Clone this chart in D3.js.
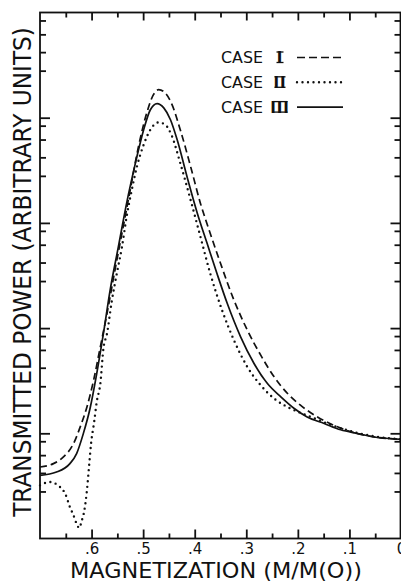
<!DOCTYPE html>
<html>
<head>
<meta charset="utf-8">
<script src="https://cdn.jsdelivr.net/npm/d3@7"></script>
<style>
  body { margin: 0; background: #fff; }
  text { font-family: "DejaVu Sans", sans-serif; fill: #111; }
</style>
</head>
<body>
<div id="chart"></div>
<script>
// magnetization M/M(0) (left to right, high to low M)
var magI = [0.700, 0.674, 0.655, 0.635, 0.622, 0.609, 0.596, 0.583, 0.570, 0.557, 0.541, 0.525,
    0.509, 0.493, 0.480, 0.470, 0.457, 0.444, 0.428, 0.408, 0.389, 0.370, 0.350, 0.324,
    0.298, 0.272, 0.246, 0.220, 0.195, 0.162, 0.130, 0.084, 0.052, 0.000];
var powerI = [4.78, 5.15, 5.94, 7.98, 11.5, 17.8, 32.0, 66.4, 138, 308, 798, 2062,
    5330, 11090, 16560, 18490, 17180, 13300, 7690, 3440, 1541, 798, 413, 185,
    95.7, 55.3, 34.4, 23.9, 18.5, 14.3, 11.9, 9.93, 9.22, 8.77];

var magII = [0.700, 0.681, 0.661, 0.651, 0.642, 0.635, 0.629, 0.624, 0.619, 0.614, 0.609, 0.605,
    0.601, 0.595, 0.590, 0.583, 0.577, 0.570, 0.561, 0.551, 0.541, 0.532, 0.522, 0.512,
    0.499, 0.486, 0.470, 0.457, 0.444, 0.428, 0.408, 0.389, 0.370, 0.347, 0.324, 0.298,
    0.272, 0.246, 0.214, 0.182, 0.143, 0.104, 0.052, 0.000];
var powerII = [3.20, 3.44, 3.08, 2.66, 1.99, 1.66, 1.38, 1.26, 1.48, 1.85, 2.87, 4.78,
    7.98, 12.8, 19.9, 29.7, 64.0, 89.0, 178, 332, 594, 1148, 2062, 3440,
    5530, 7690, 9030, 8570, 6640, 3700, 1655, 741, 332, 148, 76.9, 42.8,
    28.6, 21.4, 17.2, 14.8, 12.4, 10.7, 9.36, 8.77];

var magIII = [0.700, 0.668, 0.642, 0.629, 0.616, 0.603, 0.590, 0.577, 0.564, 0.548, 0.532, 0.515,
    0.499, 0.486, 0.473, 0.460, 0.447, 0.434, 0.415, 0.395, 0.376, 0.357, 0.337, 0.311,
    0.285, 0.259, 0.233, 0.207, 0.182, 0.149, 0.117, 0.084, 0.052, 0.000];
var powerIII = [3.98, 4.28, 5.15, 6.41, 9.93, 17.2, 37.0, 89.0, 230, 594, 1541, 3700,
    7690, 11900, 13600, 12400, 9570, 6170, 2760, 1237, 640, 332, 172, 82.6,
    46.1, 29.7, 22.2, 17.2, 14.3, 12.4, 10.8, 9.93, 9.22, 8.77];

var caseNames = ["CASE", "CASE", "CASE"];
var caseNumerals = ["I", "II", "III"];
var caseDash = ["7,4", "0,5.5", null];

var xMajorTicks = [0.6, 0.5, 0.4, 0.3, 0.2, 0.1, 0];
var xMinorTicks = [0.65, 0.55, 0.45, 0.35, 0.25, 0.15, 0.05];
var yMajorTicks = [10, 100, 1000, 10000];
var yMinorSteps = [2.8, 4.2, 6.2, 8.4];

var width = 401,
    height = 581;

var x = d3.scaleLinear().domain([0.7, 0]).range([40, 401]);
var y = d3.scaleLog().domain([1, 1e5]).range([538.5, 12.5]);

var svg = d3.select("#chart")
    .append("svg")
    .attr("width", width)
    .attr("height", height);

// minor y ticks in every decade
var yMinorTicks = [];
[1, 10, 100, 1000, 10000].forEach(function (dec) {
    yMinorSteps.forEach(function (s) { yMinorTicks.push(dec * s); });
});

function tickFormat(d) {
    return d === 0 ? "0" : d3.format(".1f")(d).replace(/^0/, "");
}

function noDomain(g) { g.select(".domain").remove(); }

// bottom axis with labels, ticks pointing inward
svg.append("g")
    .attr("transform", "translate(0,538.5)")
    .call(d3.axisBottom(x).tickValues(xMajorTicks).tickSize(-9).tickPadding(5).tickFormat(tickFormat))
    .call(noDomain)
    .call(function (g) {
        g.selectAll("text").attr("dy", "0.71em").style("font-size", "15px").style("font-family", "DejaVu Sans");
    });
svg.append("g")
    .attr("transform", "translate(0,538.5)")
    .call(d3.axisBottom(x).tickValues(xMinorTicks).tickSize(-5).tickFormat(""))
    .call(noDomain);

// top axis
svg.append("g")
    .attr("transform", "translate(0,12.5)")
    .call(d3.axisTop(x).tickValues(xMajorTicks).tickSize(-8).tickFormat(""))
    .call(noDomain);
svg.append("g")
    .attr("transform", "translate(0,12.5)")
    .call(d3.axisTop(x).tickValues(xMinorTicks).tickSize(-5).tickFormat(""))
    .call(noDomain);

// left and right axes
svg.append("g")
    .attr("transform", "translate(40,0)")
    .call(d3.axisLeft(y).tickValues(yMajorTicks).tickSize(-10).tickFormat(""))
    .call(noDomain);
svg.append("g")
    .attr("transform", "translate(40,0)")
    .call(d3.axisLeft(y).tickValues(yMinorTicks).tickSize(-6).tickFormat(""))
    .call(noDomain);
svg.append("g")
    .attr("transform", "translate(400.5,0)")
    .call(d3.axisRight(y).tickValues(yMajorTicks).tickSize(-10).tickFormat(""))
    .call(noDomain);
svg.append("g")
    .attr("transform", "translate(400.5,0)")
    .call(d3.axisRight(y).tickValues(yMinorTicks).tickSize(-6).tickFormat(""))
    .call(noDomain);

svg.selectAll(".tick line").attr("stroke", "#111").attr("stroke-width", 1.8);

// frame
svg.append("rect")
    .attr("x", x(0.7))
    .attr("y", y(1e5))
    .attr("width", x(0) - x(0.7) - 0.5)
    .attr("height", y(1) - y(1e5))
    .attr("fill", "none")
    .attr("stroke", "#111")
    .attr("stroke-width", 1.8);

// curves
var line = d3.line()
    .x(function (d) { return x(d[0]); })
    .y(function (d) { return y(d[1]); })
    .curve(d3.curveMonotoneX);

var series = [
    d3.zip(magI, powerI),
    d3.zip(magII, powerII),
    d3.zip(magIII, powerIII)
];

svg.selectAll(".curve")
    .data(series)
    .enter().append("path")
    .attr("class", "curve")
    .attr("d", line)
    .attr("fill", "none")
    .attr("stroke", "#111")
    .attr("stroke-width", function (d, i) { return i === 1 ? 2.4 : 1.7; })
    .attr("stroke-linecap", function (d, i) { return i === 1 ? "round" : "butt"; })
    .attr("stroke-dasharray", function (d, i) { return caseDash[i]; });

// legend
var legend = svg.selectAll(".legend")
    .data(caseNames)
    .enter().append("g")
    .attr("class", "legend")
    .attr("transform", function (d, i) { return "translate(0," + (57.5 + i * 24.8) + ")"; });

legend.append("text")
    .attr("x", 221)
    .attr("y", 5.5)
    .attr("textLength", 42)
    .attr("lengthAdjust", "spacingAndGlyphs")
    .style("font-size", "15px")
    .text(function (d) { return d; });

// roman numerals with top and bottom bars
legend.append("text")
    .attr("x", 280)
    .attr("y", 5.5)
    .attr("text-anchor", "middle")
    .style("font-size", "15px")
    .style("font-weight", "bold")
    .style("letter-spacing", "1px")
    .text(function (d, i) { return caseNumerals[i]; });

legend.each(function (d, i) {
    var w = 3 + caseNumerals[i].length * 4;
    var g = d3.select(this);
    [-5.5, 5].forEach(function (yy) {
        g.append("line")
            .attr("x1", 280 - w / 2)
            .attr("x2", 280 + w / 2)
            .attr("y1", yy)
            .attr("y2", yy)
            .attr("stroke", "#111")
            .attr("stroke-width", 1.3);
    });
});

legend.append("line")
    .attr("x1", 297)
    .attr("x2", 343)
    .attr("stroke", "#111")
    .attr("stroke-width", function (d, i) { return i === 1 ? 2.4 : 1.7; })
    .attr("stroke-linecap", function (d, i) { return i === 1 ? "round" : "butt"; })
    .attr("stroke-dasharray", function (d, i) { return i === 0 ? "8,4" : caseDash[i]; });

// axis titles, stretched to the span they have in the picture
function fitText(sel, cx, cy, rot, span, sy) {
    var len = sel.node().getComputedTextLength();
    sel.attr("transform", "translate(" + cx + "," + cy + ") rotate(" + rot + ") scale(" + (span / len) + "," + sy + ")");
}

var xTitle = svg.append("text")
    .attr("text-anchor", "middle")
    .style("font-size", "20px")
    .text("MAGNETIZATION (M/M(O))");
fitText(xTitle, 216, 577.5, 0, 292, 1.05);

var yTitle = svg.append("text")
    .attr("text-anchor", "middle")
    .style("font-size", "20px")
    .text("TRANSMITTED POWER (ARBITRARY UNITS)");
fitText(yTitle, 30.5, 272, -90, 490, 1.25);
</script>
</body>
</html>
